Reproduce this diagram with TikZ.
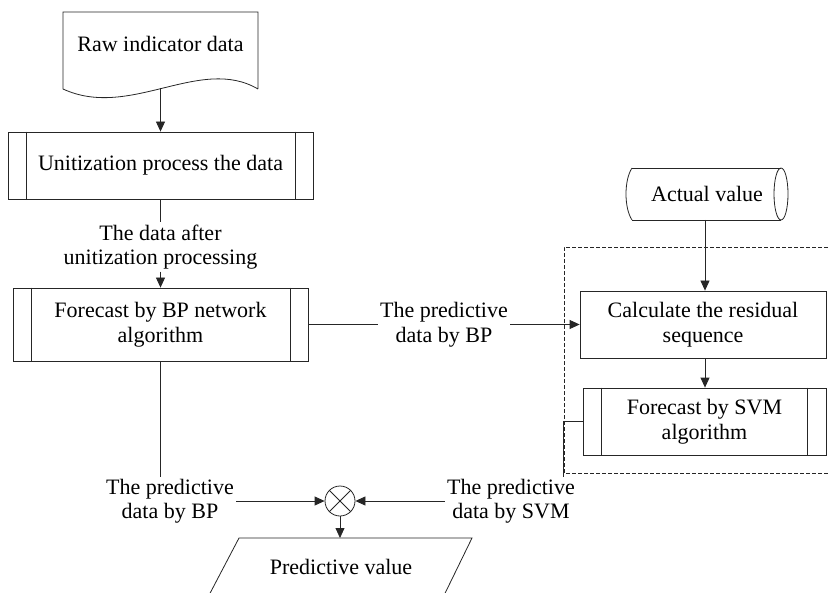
\documentclass[tikz,border=0pt]{standalone}
\usepackage{fontspec}
\setmainfont{Liberation Serif}
\usetikzlibrary{arrows.meta,shapes.geometric}
\begin{document}
\begin{tikzpicture}[x=1pt,y=-1pt,
  line/.style={draw=black!85, line width=0.8pt},
  arr/.style={line, -{Triangle[width=9pt,length=10pt]}},
  txt/.style={font=\fontsize{22}{24.5}\selectfont, align=center, inner sep=2pt},
  box/.style={txt, rectangle, line}
]
\useasboundingbox (0,0) rectangle (829,593);

% Raw indicator data (document shape)
\draw[line] (258,89) -- (258,12) -- (63,12) -- (63,89)
  .. controls (130,120) and (200,55) .. (258,89);
\node[txt] (raw) at (160.5,44) {Raw indicator data};
\coordinate (rawb) at (160.5,88);

% Unitization process
\node[box, minimum width=305pt, minimum height=67pt] (unit) at (160.5,165.5) {Unitization process the data};
\draw[line] ([xshift=19pt]unit.north west) -- ([xshift=19pt]unit.south west)
            ([xshift=-18pt]unit.north east) -- ([xshift=-18pt]unit.south east);
\draw[arr] (rawb) -- (unit.north);

\node[txt] (lab1) at (160.5,247) {The data after\\unitization processing};

% BP forecast
\node[box, minimum width=295pt, minimum height=73pt] (bp) at (160.5,324.5) {Forecast by BP network\\algorithm};
\draw[line] ([xshift=19pt]bp.north west) -- ([xshift=19pt]bp.south west)
            ([xshift=-18pt]bp.north east) -- ([xshift=-18pt]bp.south east);
\draw[line] (unit.south) -- (lab1.north);
\draw[arr] (lab1.south) -- (bp.north);

% Actual value (storage)
\draw[line] (632,168) -- (781,168) (632,220) -- (781,220);
\draw[line] (632,168) .. controls (624,180) and (624,208) .. (632,220);
\draw[line] (781,194) ellipse [x radius=7, y radius=26];
\node[txt] (act) at (707,194) {Actual value};
\coordinate (actb) at (705,220);

% dashed group
\draw[line, dash pattern=on 4pt off 2pt] (840,247) -- (564,247) -- (564,473) -- (840,473);

% Calculate residual
\node[box, minimum width=246pt, minimum height=67pt] (calc) at (703,324.5) {Calculate the residual\\sequence};
\draw[arr] (actb) -- (actb |- calc.north);

% SVM
\node[box, minimum width=243pt, minimum height=67pt] (svm) at (704.5,421.5) {Forecast by SVM\\algorithm};
\draw[line] ([xshift=19pt]svm.north west) -- ([xshift=19pt]svm.south west)
            ([xshift=-19pt]svm.north east) -- ([xshift=-19pt]svm.south east);
\draw[arr] (calc.south -| actb) -- (svm.north -| actb);

% middle label
\node[txt] (lab2) at (444,324.5) {The predictive\\data by BP};
\draw[line] (bp.east) -- (lab2.west);
\draw[arr] (lab2.east) -- (calc.west);

% bottom
\node[txt] (lab4) at (170,501) {The predictive\\data by BP};
\node[txt] (lab3) at (511,501) {The predictive\\data by SVM};
\node[circle, line, minimum size=30pt, inner sep=0pt] (mul) at (340,501) {};
\draw[line] (mul.north west) -- (mul.south east) (mul.north east) -- (mul.south west);

\draw[line] (bp.south) -- (bp.south |- lab4.north);
\coordinate (svmturn) at (563,421.5);
\draw[line] (svm.west) -- (svmturn) -- (svmturn |- lab3.north);
\draw[arr] (lab4.east) -- (mul.west);
\draw[arr] (lab3.west) -- (mul.east);

% Predictive value (parallelogram, cut by page edge)
\draw[line] (196,620) -- (239,538) -- (472,538) -- (432,620);
\node[txt] (pv) at (341,567) {Predictive value};
\coordinate (pvtop) at (340,538);
\draw[arr] (mul.south) -- (pvtop);
\end{tikzpicture}
\end{document}
